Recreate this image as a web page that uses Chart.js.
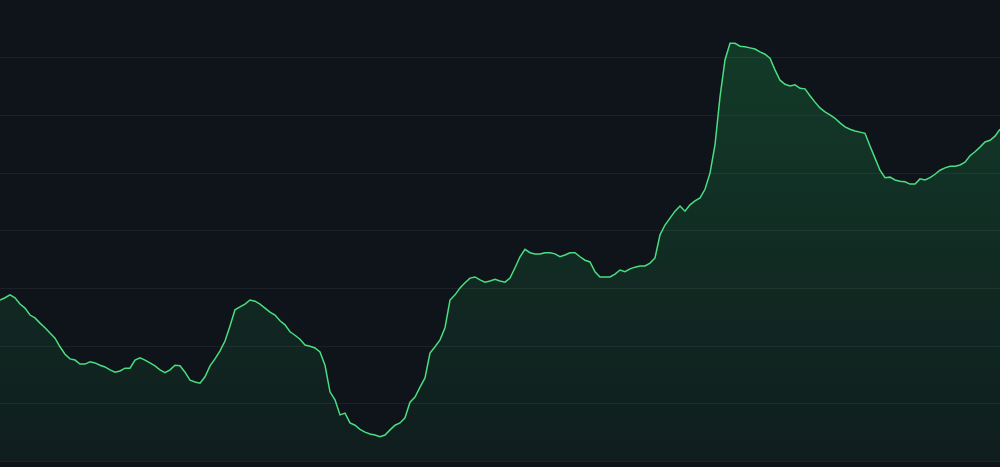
<!DOCTYPE html>
<html>
<head>
<meta charset="utf-8">
<script src="https://cdn.jsdelivr.net/npm/chart.js@4.4.1/dist/chart.umd.min.js"></script>
<style>
  html, body { margin: 0; padding: 0; background: #0f131a; }
  #wrap { width: 1000px; height: 467px; position: relative; }
</style>
</head>
<body>
<div id="wrap"><canvas id="c" width="1000" height="467"></canvas></div>
<script>
const values = [
  28.0, 28.4, 28.9, 28.4, 27.3, 26.6, 25.4, 24.9, 24.0, 23.2,
  22.3, 21.4, 19.9, 18.6, 17.8, 17.6, 16.9, 16.9, 17.3, 17.1,
  16.7, 16.4, 15.9, 15.5, 15.7, 16.2, 16.2, 17.6, 18.0, 17.6,
  17.1, 16.6, 15.9, 15.4, 15.9, 16.7, 16.6, 15.5, 14.1, 13.8,
  13.6, 14.7, 16.6, 17.8, 19.2, 20.9, 23.5, 26.3, 26.8, 27.3,
  28.0, 27.8, 27.3, 26.6, 25.9, 25.4, 24.4, 23.7, 22.5, 21.9,
  21.2, 20.2, 20.0, 19.7, 19.0, 16.7, 12.1, 10.7, 8.1, 8.4,
  6.7, 6.3, 5.6, 5.1, 4.8, 4.6, 4.3, 4.6, 5.5, 6.3,
  6.7, 7.6, 10.3, 11.2, 12.9, 14.5, 18.8, 19.9, 21.1, 23.2,
  28.0, 28.9, 30.1, 31.0, 31.8, 32.0, 31.5, 31.1, 31.3, 31.6,
  31.3, 31.1, 31.8, 33.6, 35.5, 36.8, 36.2, 36.0, 36.0, 36.2,
  36.2, 36.0, 35.5, 35.8, 36.2, 36.2, 35.5, 34.9, 34.6, 32.9,
  32.0, 32.0, 32.0, 32.5, 33.2, 32.9, 33.4, 33.7, 33.9, 33.9,
  34.4, 35.3, 39.3, 41.0, 42.2, 43.4, 44.3, 43.4, 44.5, 45.2,
  45.7, 47.2, 50.0, 54.9, 63.2, 69.6, 72.5, 72.5, 72.0, 71.9,
  71.7, 71.5, 71.0, 70.6, 69.9, 67.9, 66.1, 65.4, 65.1, 65.3,
  64.7, 64.6, 63.4, 62.3, 61.3, 60.6, 60.1, 59.5, 58.7, 58.0,
  57.6, 57.3, 57.1, 56.9, 54.7, 52.6, 50.5, 49.2, 49.3, 48.8,
  48.6, 48.5, 48.1, 48.1, 49.0, 48.8, 49.2, 49.8, 50.5, 50.9,
  51.2, 51.2, 51.4, 51.9, 53.0, 53.7, 54.5, 55.4, 55.7, 56.4,
  57.6
];
const labels = values.map((_, i) => String(i));
const yMin = 0;
const yMax = 80;
const yStep = 10;

const ctx = document.getElementById('c').getContext('2d');
new Chart(ctx, {
  type: 'line',
  data: {
    labels: labels,
    datasets: [{
      data: values,
      borderColor: '#4ade80',
      borderWidth: 1.5,
      pointRadius: 0,
      tension: 0,
      fill: 'start',
      backgroundColor: (c) => {
        const chart = c.chart;
        const area = chart.chartArea;
        if (!area) return 'rgba(34,197,94,0.15)';
        const g = chart.ctx.createLinearGradient(0, area.top, 0, area.bottom);
        g.addColorStop(0, 'rgba(34,197,94,0.24)');
        g.addColorStop(1, 'rgba(34,197,94,0.06)');
        return g;
      }
    }]
  },
  options: {
    responsive: false,
    animation: false,
    layout: { padding: { top: 0, left: 0, right: 0, bottom: 5.4 } },
    plugins: { legend: { display: false }, tooltip: { enabled: false } },
    scales: {
      x: { display: false },
      y: {
        display: true,
        min: yMin,
        max: yMax,
        border: { display: false },
        ticks: { display: false, stepSize: yStep },
        grid: {
          drawTicks: false,
          lineWidth: 1,
          color: (c) => (c.tick && c.tick.value === yMax) ? 'rgba(0,0,0,0)' : 'rgba(255,255,255,0.06)'
        }
      }
    }
  }
});
</script>
</body>
</html>
